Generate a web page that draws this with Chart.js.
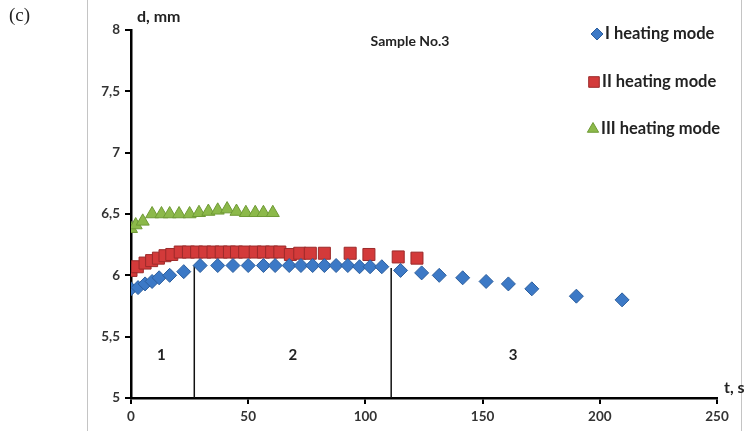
<!DOCTYPE html>
<html>
<head>
<meta charset="utf-8">
<script src="https://cdn.jsdelivr.net/npm/chart.js@4"></script>
<style>
  html, body { margin: 0; padding: 0; background: #fff; }
  #wrap { width: 745px; height: 431px; }
</style>
</head>
<body>
<div id="wrap"><canvas id="d_chart" width="745" height="431"></canvas></div>
<script>
// mode I (diamonds)
var timeI = [0, 3, 6, 9, 12, 16.5, 22.5, 29.5, 37, 43.5, 50, 56.5, 61.5, 67.5, 72.5, 77.5, 82.5, 87.5, 92.5, 97.5, 102, 107, 115, 124, 131.5, 141.5, 151.5, 161, 171, 190, 209.5];
var diamI = [5.89, 5.90, 5.93, 5.95, 5.98, 6.00, 6.03, 6.08, 6.08, 6.08, 6.08, 6.08, 6.08, 6.08, 6.08, 6.08, 6.08, 6.08, 6.08, 6.07, 6.07, 6.07, 6.04, 6.02, 6.00, 5.98, 5.95, 5.93, 5.89, 5.83, 5.80];
// mode II (squares)
var timeII = [0, 2.7, 6, 8.8, 11.7, 14.5, 17.4, 21, 24.5, 28, 31.5, 35, 38.5, 42, 45, 48.5, 53, 56.5, 60, 63.5, 68, 72, 76.5, 82.5, 93.5, 101.5, 114, 122];
var diamII = [6.04, 6.07, 6.10, 6.12, 6.14, 6.16, 6.17, 6.19, 6.19, 6.19, 6.19, 6.19, 6.19, 6.19, 6.19, 6.19, 6.19, 6.19, 6.19, 6.19, 6.17, 6.18, 6.18, 6.18, 6.18, 6.17, 6.15, 6.14];
// mode III (triangles)
var timeIII = [0, 2, 5, 9, 13, 16.5, 20.5, 25, 29, 33, 37, 41, 45, 49, 53, 56.5, 60.5];
var diamIII = [6.38, 6.41, 6.44, 6.50, 6.50, 6.50, 6.50, 6.50, 6.51, 6.52, 6.53, 6.54, 6.52, 6.51, 6.51, 6.51, 6.51];

var seriesNames = ['I heating mode', 'II heating mode', 'III heating mode'];
var xTicks = [0, 50, 100, 150, 200, 250];
var yTicks = [5, 5.5, 6, 6.5, 7, 7.5, 8];

// stage boundaries and stage numbers
var boundaryT = [27, 111];
var boundaryTop = [6.08, 6.06];
var stageLabels = ['1', '2', '3'];
var stageT = [13, 69, 163];
var stageD = 5.35;

function pts(xs, ys) {
    return xs.map(function (x, i) { return { x: x, y: ys[i] }; });
}

var datasets = [
    {
        label: seriesNames[0], data: pts(timeI, diamI),
        pointStyle: 'rectRot', pointRadius: 7, pointHoverRadius: 7,
        backgroundColor: '#3c79c6', borderColor: '#2d5f9e', borderWidth: 1, showLine: false
    },
    {
        label: seriesNames[1], data: pts(timeII, diamII),
        pointStyle: 'rect', pointRadius: 8.5, pointHoverRadius: 8.5,
        backgroundColor: '#d33a3a', borderColor: '#9c2a2a', borderWidth: 1, showLine: false
    },
    {
        label: seriesNames[2], data: pts(timeIII, diamIII),
        pointStyle: 'triangle', pointRadius: 7.5, pointHoverRadius: 7.5,
        backgroundColor: '#8cb94a', borderColor: '#6f9a35', borderWidth: 1, showLine: false
    }
];
boundaryT.forEach(function (t, i) {
    datasets.push({
        label: 'boundary' + i, data: [{ x: t, y: 5 }, { x: t, y: boundaryTop[i] }],
        showLine: true, borderColor: '#111', borderWidth: 1.5, pointRadius: 0
    });
});

var overlay = {
    id: 'overlay',
    beforeDraw: function (chart) {
        var c = chart.ctx;
        c.save();
        c.fillStyle = '#fff';
        c.fillRect(0, 0, chart.width, chart.height);
        c.strokeStyle = '#c4c4c4';
        c.lineWidth = 1;
        c.beginPath();
        c.moveTo(87.5, 0); c.lineTo(87.5, chart.height);
        c.moveTo(741.5, 0); c.lineTo(741.5, chart.height);
        c.stroke();
        c.restore();
    },
    afterDraw: function (chart) {
        var c = chart.ctx, xs = chart.scales.x, ys = chart.scales.y;
        c.save();
        c.fillStyle = '#222';
        c.textBaseline = 'middle';
        // stage numbers
        c.font = 'bold 15px Lato';
        c.textAlign = 'center';
        stageLabels.forEach(function (s, i) {
            c.fillText(s, xs.getPixelForValue(stageT[i]), ys.getPixelForValue(stageD));
        });
        // axis titles
        c.font = 'bold 16px Lato';
        c.textAlign = 'left';
        c.fillText('d, mm', 137, 17);
        c.fillText('t, s', 724, 388);
        c.font = 'bold 14px Lato';
        c.textAlign = 'center';
        c.fillText('Sample No.3', 410, 41);
        c.font = '19px "Liberation Serif"';
        c.textAlign = 'left';
        c.fillText('(c)', 9, 16);
        // legend
        var rowY = [34, 82, 129];
        var markX = [597, 594, 593];
        c.font = 'bold 16.5px Lato';
        chart.data.datasets.slice(0, 3).forEach(function (ds, i) {
            c.fillStyle = ds.backgroundColor;
            c.strokeStyle = ds.borderColor;
            c.lineWidth = 1;
            Chart.helpers.drawPoint(c, { pointStyle: ds.pointStyle, radius: ds.pointRadius - 1, borderWidth: 1 }, markX[i], rowY[i]);
            c.fillStyle = '#222';
            c.fillText(ds.label, markX[i] + 8, rowY[i]);
        });
        c.restore();
    }
};

var ctx = document.getElementById('d_chart').getContext('2d');
var dChart = new Chart(ctx, {
    type: 'scatter',
    data: { datasets: datasets },
    options: {
        responsive: false,
        animation: false,
        layout: { padding: { top: 30, right: 28, left: 0, bottom: 0 } },
        plugins: { legend: { display: false }, tooltip: { enabled: false } },
        scales: {
            x: {
                type: 'linear', min: 0, max: 250,
                afterBuildTicks: function (s) { s.ticks = xTicks.map(function (v) { return { value: v }; }); },
                afterFit: function (s) { s.height = 33; },
                border: { color: '#000', width: 2.5 },
                grid: { drawOnChartArea: false, color: '#000', lineWidth: 2, tickLength: 6 },
                ticks: { color: '#333', padding: 5, font: { family: 'Lato', weight: 'bold', size: 13.5 } }
            },
            y: {
                type: 'linear', min: 5, max: 8,
                afterBuildTicks: function (s) { s.ticks = yTicks.map(function (v) { return { value: v }; }); },
                afterFit: function (s) { s.width = 131; },
                border: { color: '#000', width: 2.5 },
                grid: { drawOnChartArea: false, color: '#000', lineWidth: 2, tickLength: 6 },
                ticks: {
                    color: '#333', padding: 5, font: { family: 'Lato', weight: 'bold', size: 13.5 },
                    callback: function (v) { return String(v).replace('.', ','); }
                }
            }
        }
    },
    plugins: [overlay]
});
</script>
</body>
</html>
